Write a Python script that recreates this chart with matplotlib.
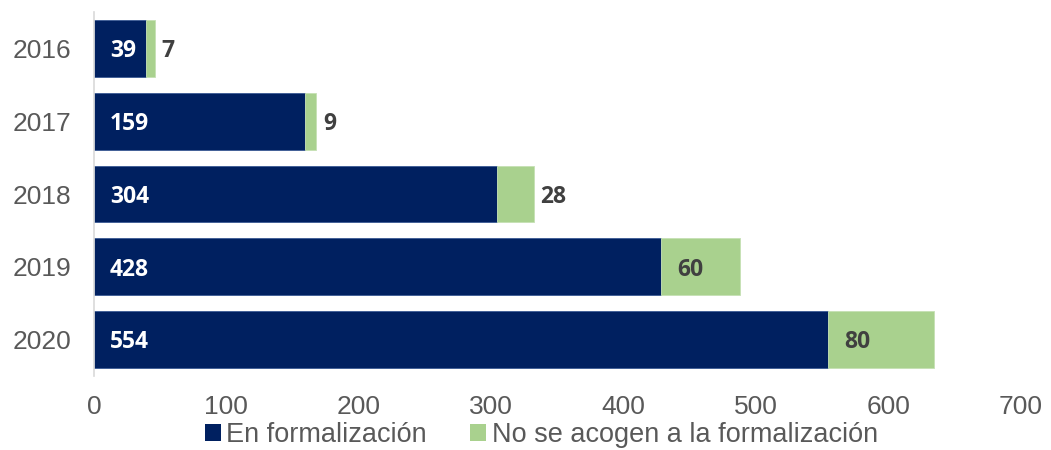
import matplotlib
matplotlib.use("Agg")
import matplotlib.pyplot as plt
from matplotlib.patches import Patch

years = ["2016", "2017", "2018", "2019", "2020"]
en_formalizacion = [39, 159, 304, 428, 554]
no_se_acogen = [7, 9, 28, 60, 80]
xticks = [0, 100, 200, 300, 400, 500, 600, 700]
series_names = ["En formalización", "No se acogen a la formalización"]

navy = "#002060"
green = "#A9D18E"
gray_txt = "#595959"
lbl_txt = "#404040"

fig = plt.figure(figsize=(10.51, 4.5), dpi=100)
ax = fig.add_axes([0.0894, 0.1644, 0.8821, 0.8089])

y = list(range(len(years)))
ax.barh(y, en_formalizacion, height=0.78, color=navy, edgecolor="#3A5A94", linewidth=0.6)
ax.barh(y, no_se_acogen, left=en_formalizacion, height=0.78, color=green,
        edgecolor="#C5E0B4", linewidth=0.6)

lab_kw = dict(ha="left", va="center", fontsize=16.5, fontweight="bold",
              family="Open Sans", textcoords="offset points")
for i in y:
    a = en_formalizacion[i]
    b = no_se_acogen[i]
    ax.annotate(str(a), (0, i), xytext=(11.5, -2), color="white", **lab_kw)
    if b >= 50:
        ax.annotate(str(b), (a, i), xytext=(12, -2), color=lbl_txt, **lab_kw)
    else:
        ax.annotate(str(b), (a + b, i), xytext=(5, -2), color=lbl_txt, **lab_kw)

ax.set_ylim(4.5, -0.5)
ax.set_xlim(0, 700)
ax.set_xticks(xticks)
ax.set_xticklabels([str(t) for t in xticks])
ax.set_yticks(y)
ax.set_yticklabels(years)
ax.tick_params(axis="both", length=0, labelsize=19, labelcolor=gray_txt,
               labelfontfamily="Liberation Sans")
ax.tick_params(axis="x", pad=14)
ax.tick_params(axis="y", pad=16)
for s in ["top", "right", "bottom"]:
    ax.spines[s].set_visible(False)
ax.spines["left"].set_color("#D9D9D9")
ax.spines["left"].set_linewidth(1.2)

handles = [Patch(facecolor=navy), Patch(facecolor=green)]
leg = fig.legend(handles, series_names, loc="center", bbox_to_anchor=(0.515, 0.034),
                 ncol=2, frameon=False, prop={"family": "Liberation Sans", "size": 19.5},
                 handlelength=0.6, handleheight=0.6, handletextpad=0.2,
                 columnspacing=1.6, labelcolor=gray_txt)

fig.savefig("out.png", dpi=100)
